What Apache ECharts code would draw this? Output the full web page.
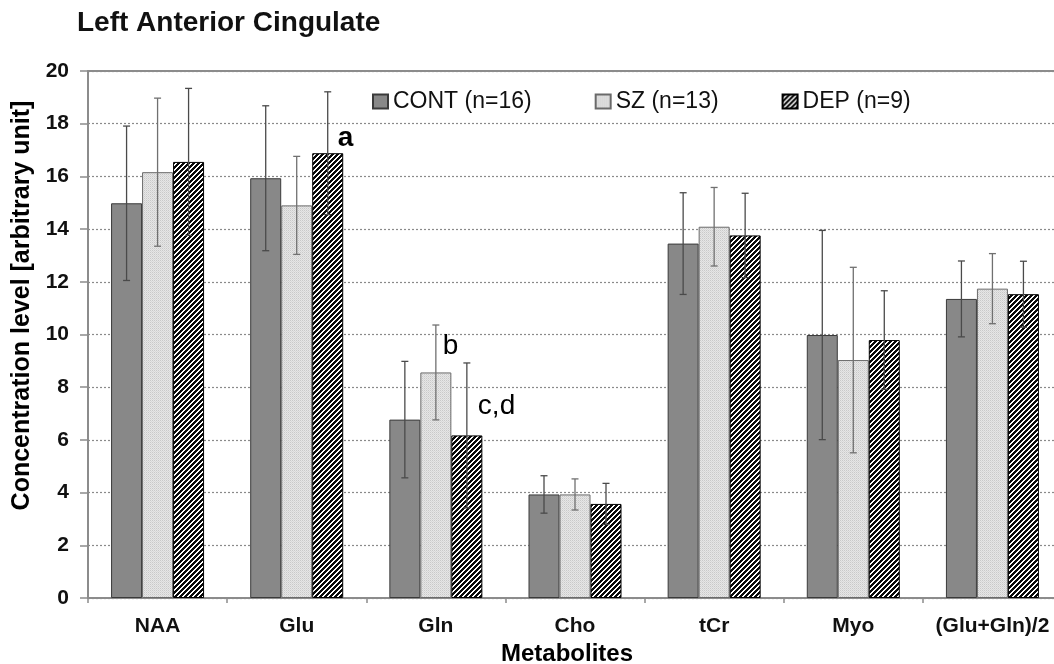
<!DOCTYPE html>
<html>
<head>
<meta charset="utf-8">
<title>Left Anterior Cingulate</title>
<script src="https://cdn.jsdelivr.net/npm/echarts@6/dist/echarts.min.js"></script>
<style>
  html, body { margin: 0; padding: 0; background: #ffffff; }
  #chart { width: 1054px; height: 664px; }
</style>
</head>
<body>
<div id="chart"></div>
<script>
// Metabolite concentrations (mean and standard deviation) per group
const categories = ['NAA', 'Glu', 'Gln', 'Cho', 'tCr', 'Myo', '(Glu+Gln)/2'];
const groupNames = ['CONT (n=16)', 'SZ (n=13)', 'DEP (n=9)'];

const contMean = [14.98, 15.93, 6.77, 3.93, 13.45, 9.98, 11.35];
const contSD   = [2.93, 2.75, 2.21, 0.71, 1.93, 3.97, 1.44];
const szMean   = [16.16, 14.90, 8.56, 3.93, 14.09, 9.03, 11.74];
const szSD     = [2.81, 1.86, 1.80, 0.59, 1.49, 3.52, 1.33];
const depMean  = [16.55, 16.88, 6.17, 3.57, 13.76, 9.79, 11.53];
const depSD    = [2.79, 2.33, 2.75, 0.78, 1.60, 1.87, 1.25];

// Significance markers, attached to a group's bar in a category
const annoText     = ['a', 'b', 'c,d'];
const annoCategory = ['Glu', 'Gln', 'Gln'];
const annoGroup    = [2, 1, 2];

const yTicks = [0, 2, 4, 6, 8, 10, 12, 14, 16, 18, 20];

const FONT = "'Liberation Sans', Arial, sans-serif";
const BAR_W = 31;

// Fill patterns
function makeHatch() {
  const n = 5, c = document.createElement('canvas');
  c.width = n; c.height = n;
  const ctx = c.getContext('2d');
  const img = ctx.createImageData(n, n);
  for (let y = 0; y < n; y++) {
    for (let x = 0; x < n; x++) {
      const dark = ((x + y) % n) < 3;
      const v = dark ? 10 : 255;
      const i = (y * n + x) * 4;
      img.data[i] = v; img.data[i + 1] = v; img.data[i + 2] = v; img.data[i + 3] = 255;
    }
  }
  ctx.putImageData(img, 0, 0);
  return c;
}
function makeDots() {
  const c = document.createElement('canvas');
  c.width = 2; c.height = 2;
  const ctx = c.getContext('2d');
  ctx.fillStyle = '#e6e6e6'; ctx.fillRect(0, 0, 2, 2);
  ctx.fillStyle = '#c9c9c9'; ctx.fillRect(0, 0, 1, 1);
  ctx.fillStyle = '#d8d8d8'; ctx.fillRect(1, 1, 1, 1);
  return c;
}

const groupStyles = [
  { color: '#888888', borderColor: '#3a3a3a', borderWidth: 1 },
  { color: { image: makeDots(), repeat: 'repeat' }, borderColor: '#6a6a6a', borderWidth: 1 },
  { color: { image: makeHatch(), repeat: 'repeat' }, borderColor: '#000000', borderWidth: 1 }
];
const errColors = ['#4a4a4a', '#707070', '#4a4a4a'];
const means = [contMean, szMean, depMean];
const sds = [contSD, szSD, depSD];

const barSeries = groupNames.map((name, g) => ({
  name: name,
  type: 'bar',
  barWidth: BAR_W,
  barGap: '0%',
  itemStyle: groupStyles[g],
  data: means[g],
  z: 2
}));

const errorSeries = groupNames.map((name, g) => ({
  type: 'custom',
  name: name + ' SD',
  z: 5,
  silent: true,
  data: means[g].map((m, i) => [i, m - sds[g][i], m + sds[g][i]]),
  renderItem: function (params, api) {
    const idx = api.value(0);
    const x = api.coord([idx, 0])[0] + (g - 1) * BAR_W;
    const yHi = api.coord([idx, api.value(2)])[1];
    const yLo = api.coord([idx, api.value(1)])[1];
    const st = { stroke: errColors[g], lineWidth: 1.3 };
    const cap = 3.5;
    return {
      type: 'group',
      children: [
        { type: 'line', shape: { x1: x, y1: yHi, x2: x, y2: yLo }, style: st },
        { type: 'line', shape: { x1: x - cap, y1: yHi, x2: x + cap, y2: yHi }, style: st },
        { type: 'line', shape: { x1: x - cap, y1: yLo, x2: x + cap, y2: yLo }, style: st }
      ]
    };
  }
}));

// Text placement of each marker relative to its bar top
const annoStyle = [
  { dx: 10, dy: -15, weight: 'bold' },
  { dx: 7,  dy: -26, weight: 'normal' },
  { dx: 11, dy: -29, weight: 'normal' }
];
const annoSeries = {
  type: 'custom',
  name: 'markers',
  z: 6,
  silent: true,
  data: annoText.map((t, k) => {
    const ci = categories.indexOf(annoCategory[k]);
    return [ci, means[annoGroup[k]][ci], k];
  }),
  renderItem: function (params, api) {
    const ci = api.value(0);
    const k = api.value(2);
    const g = annoGroup[k];
    const p = api.coord([ci, api.value(1)]);
    const s = annoStyle[k];
    return {
      type: 'text',
      x: p[0] + (g - 1) * BAR_W + s.dx,
      y: p[1] + s.dy,
      style: {
        text: annoText[k],
        fill: '#000',
        font: s.weight + ' 28px ' + FONT,
        align: 'left',
        verticalAlign: 'middle'
      }
    };
  }
};

const chart = echarts.init(document.getElementById('chart'), null, { renderer: 'canvas' });
chart.setOption({
  backgroundColor: '#ffffff',
  animation: false,
  title: {
    text: 'Left Anterior Cingulate',
    left: 77,
    top: 9,
    padding: 0,
    textStyle: { fontFamily: FONT, fontSize: 28, fontWeight: 'bold', color: '#111' }
  },
  legend: {
    data: groupNames,
    left: 372,
    top: 90,
    padding: 0,
    icon: 'rect',
    itemWidth: 15,
    itemHeight: 14,
    itemGap: 63,
    textStyle: { fontFamily: FONT, fontSize: 23, color: '#111' }
  },
  grid: { left: 88, right: -8, top: 71, bottom: 66, containLabel: false, outerBoundsMode: 'none' },
  xAxis: [
    {
      type: 'category',
      data: categories,
      position: 'bottom',
      name: 'Metabolites',
      nameLocation: 'middle',
      nameGap: 43,
      nameTextStyle: { fontFamily: FONT, fontSize: 24, fontWeight: 'bold', color: '#000', padding: [0, 16, 0, 0] },
      axisLine: { show: true, lineStyle: { color: '#8c8c8c', width: 2 } },
      axisTick: { show: true, length: 5, lineStyle: { color: '#8c8c8c', width: 1.5 } },
      axisLabel: { fontFamily: FONT, fontSize: 21, fontWeight: 'bold', color: '#111', margin: 18, interval: 0 },
      splitLine: { show: false }
    },
    {
      type: 'category',
      data: categories,
      position: 'top',
      axisLine: { show: true, lineStyle: { color: '#8c8c8c', width: 2 } },
      axisTick: { show: false },
      axisLabel: { show: false },
      splitLine: { show: false }
    }
  ],
  yAxis: {
    type: 'value',
    min: yTicks[0],
    max: yTicks[yTicks.length - 1],
    interval: yTicks[1] - yTicks[0],
    name: 'Concentration level [arbitrary unit]',
    nameLocation: 'middle',
    nameGap: 50,
    nameTextStyle: { fontFamily: FONT, fontSize: 25, fontWeight: 'bold', color: '#000', padding: [0, 0, 0, 58] },
    axisLine: { show: true, lineStyle: { color: '#8c8c8c', width: 2 } },
    axisTick: { show: true, length: 8, lineStyle: { color: '#8c8c8c', width: 1.5 } },
    axisLabel: { fontFamily: FONT, fontSize: 21, fontWeight: 'bold', color: '#111', margin: 19 },
    splitLine: { show: true, lineStyle: { color: '#8a8a8a', width: 1.2, type: [2, 2] } }
  },
  series: [...barSeries, ...errorSeries, annoSeries]
});
</script>
</body>
</html>
